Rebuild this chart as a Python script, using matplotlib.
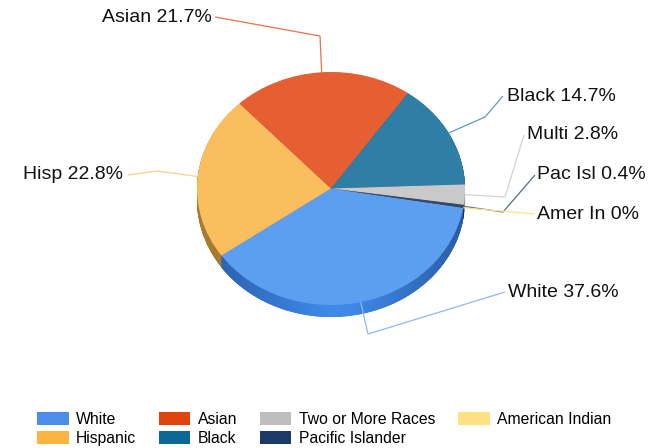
import numpy as np
import matplotlib
matplotlib.use("Agg")
import matplotlib.pyplot as plt
from matplotlib.patches import Patch
from matplotlib.colors import LinearSegmentedColormap

# ---------------- data ----------------
categories = ["White", "Hispanic", "Asian", "Black", "Two or More Races",
              "Pacific Islander", "American Indian"]
short_labels = ["White", "Hisp", "Asian", "Black", "Multi", "Pac Isl", "Amer In"]
values = [37.6, 22.8, 21.7, 14.7, 2.8, 0.4, 0.0]
value_text = ["37.6%", "22.8%", "21.7%", "14.7%", "2.8%", "0.4%", "0%"]

# ---------------- style ----------------
top_colors = ["#5C9FF0", "#FBBE5E", "#E55F33", "#2E7EA5", "#C9C9C9", "#34496F", "#FFE083"]
side_colors = ["#3570C4", "#A57A31", "#A8441F", "#1F5877", "#8F8F8F", "#1E2C45", "#BFA760"]
legend_colors = ["#4A8EEA", "#FBB43F", "#E0440E", "#0B6896", "#BEBEBE", "#1C3A69", "#FFE083"]
line_colors = ["#8DB8F0", "#FCD08A", "#E8724A", "#5E9BBF", "#D2D2D2", "#5A6A8A", "#FFE38A"]

W, H = 650, 448
CX, CY, RX, RY = 331.0, 188.5, 134.0, 116.5
DEPTH = 12.0
START = -9.5

plt.rcParams['font.family'] = ['Liberation Sans', 'DejaVu Sans']

fig = plt.figure(figsize=(W / 100, H / 100), dpi=100)
ax = fig.add_axes([0, 0, 1, 1])


def px(x, y):
    """pixel (from top-left) -> pie data coordinates"""
    return (x - CX) / RX, (CY - y) / RY


d_units = DEPTH / RY
n_layers = 24

side_cmap = LinearSegmentedColormap.from_list(
    "side", [(0.0, "#2D63B2"), (0.45, "#3F8BEA"), (0.55, "#3E88E6"), (1.0, "#2A5CA6")])
gx = np.linspace(0, 1, 256)[None, :]
for k in range(n_layers, 0, -1):
    off = -d_units * k / n_layers
    wedges, _ = ax.pie(values, startangle=START, counterclock=False,
                       colors=side_colors, center=(0, off), radius=1.0,
                       wedgeprops=dict(linewidth=0))
    xl0, xr0 = px(220, 0)[0], px(466, 0)[0]
    im = ax.imshow(gx, cmap=side_cmap, extent=(xl0, xr0, off - 1.05, off + 0.2),
                   aspect='auto', zorder=wedges[0].get_zorder() + 0.01,
                   interpolation='bilinear')
    im.set_clip_path(wedges[0])

top_wedges, _ = ax.pie(values, startangle=START, counterclock=False,
                       colors=top_colors, center=(0, 0), radius=1.0,
                       wedgeprops=dict(linewidth=0))
for w in top_wedges:
    w.set_zorder(5)

ax.set_aspect('auto')
ax.set_xlim(-CX / RX, (W - CX) / RX)
ax.set_ylim(-(H - CY) / RY, CY / RY)
ax.axis('off')

# ---------------- labels with leader lines ----------------
layout = {
    "White": ((368, 334), (505, 292), 'left', (508, 292)),
    "Hisp": ((157, 171), (128, 175), 'right', (123, 174)),
    "Asian": ((320, 36), (215, 17), 'right', (212, 17)),
    "Black": ((485, 117), (503, 96), 'left', (507, 96)),
    "Multi": ((505, 197), (524, 135), 'left', (527, 134)),
    "Pac Isl": ((503, 212), (535, 175), 'left', (537, 174)),
    "Amer In": (None, (535, 214), 'left', (537, 214)),
}

total = sum(values)
angle = START
for i, (lab, v) in enumerate(zip(short_labels, values)):
    span = 360.0 * v / total
    mid = np.deg2rad(angle - span / 2)
    angle -= span
    ax_pt = (np.cos(mid), np.sin(mid))
    elbow, end, ha, tpos = layout[lab]
    pts = [ax_pt]
    if elbow is not None:
        pts.append(px(*elbow))
    pts.append(px(*end))
    pts = np.array(pts)
    ax.plot(pts[:, 0], pts[:, 1], color=line_colors[i], lw=0.9, zorder=6,
            solid_capstyle='butt')
    tx, ty = px(*tpos)
    ax.text(tx, ty, f"{lab} {value_text[i]}", ha=ha, va='center',
            fontsize=14, color="#111111", zorder=7)

# ---------------- legend ----------------
handles = [Patch(facecolor=c, edgecolor='none') for c in legend_colors]
fig.legend(handles, categories, loc='upper left', ncol=4,
           bbox_to_anchor=(37.3 / W, 1 - 411.5 / H), frameon=False,
           fontsize=11.3, handlelength=2.0, handleheight=0.9,
           handletextpad=0.47, columnspacing=1.45, labelspacing=0.3,
           borderpad=0, borderaxespad=0)

fig.savefig("out.png", dpi=100)
